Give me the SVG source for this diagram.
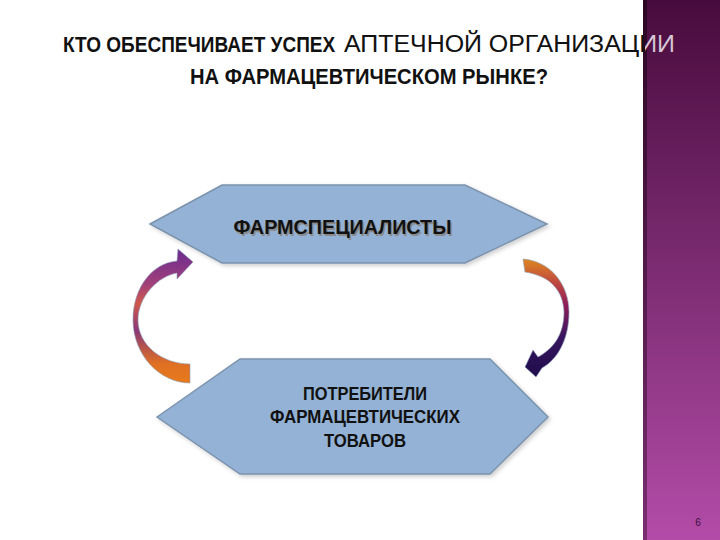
<svg xmlns="http://www.w3.org/2000/svg" width="720" height="540" viewBox="0 0 720 540">
<defs>
<style>
.hex{fill:#93b2d5;stroke:#7c93ad;stroke-width:1.5}
.t1{font-family:"Liberation Sans",Arial,sans-serif;font-weight:bold;font-size:20px;fill:#111}
.t2{font-family:"Liberation Sans",Arial,sans-serif;font-weight:bold;font-size:18px;fill:#111}
.shadow{fill:#8a8a8a}
</style>
<linearGradient id="bar" x1="0" y1="0" x2="0" y2="1">
<stop offset="0" stop-color="#480b3d"/>
<stop offset="0.45" stop-color="#77296d"/>
<stop offset="1" stop-color="#b34ca8"/>
</linearGradient>
<linearGradient id="edge" x1="0" y1="0" x2="0" y2="1">
<stop offset="0" stop-color="#2a0622"/>
<stop offset="1" stop-color="#7a2e70"/>
</linearGradient>
<linearGradient id="titlefill" gradientUnits="userSpaceOnUse" x1="0" y1="0" x2="720" y2="0">
<stop offset="0.8958" stop-color="#111"/>
<stop offset="0.8958" stop-color="#d8c8d6"/>
</linearGradient>
<linearGradient id="garrL" gradientUnits="userSpaceOnUse" x1="0" y1="250" x2="0" y2="384">
<stop offset="0" stop-color="#6c2c90"/>
<stop offset="0.25" stop-color="#a0407a"/>
<stop offset="0.4" stop-color="#d0584a"/>
<stop offset="0.6" stop-color="#8a3878"/>
<stop offset="0.85" stop-color="#e07022"/>
<stop offset="1" stop-color="#e87a1c"/>
</linearGradient>
<linearGradient id="garrR" gradientUnits="userSpaceOnUse" x1="0" y1="258" x2="0" y2="378">
<stop offset="0" stop-color="#e08a1e"/>
<stop offset="0.2" stop-color="#c04a40"/>
<stop offset="0.4" stop-color="#8c1c58"/>
<stop offset="0.65" stop-color="#3a1660"/>
<stop offset="1" stop-color="#1e0c4a"/>
</linearGradient>
<filter id="sh" x="-5%" y="-5%" width="115%" height="120%">
<feDropShadow dx="2" dy="2" stdDeviation="2" flood-color="#000" flood-opacity="0.2"/>
</filter>
</defs>
<rect x="0" y="0" width="720" height="540" fill="#fff"/>
<g id="sidebar">
<rect x="645" y="0" width="75" height="540" fill="url(#bar)"/>
<rect x="643" y="0" width="4" height="540" fill="url(#edge)"/>
<text x="698" y="526" font-family="Liberation Sans,Arial,sans-serif" font-size="10" fill="#3a1040" text-anchor="middle">6</text>
</g>
<g id="title">
<text transform="translate(63,52) scale(0.84,1)" x="0" y="0" font-family="Liberation Sans,Arial,sans-serif" font-weight="bold" font-size="22" fill="#111" textLength="324" lengthAdjust="spacingAndGlyphs">КТО ОБЕСПЕЧИВАЕТ УСПЕХ</text>
<text x="344" y="52" font-family="Liberation Sans,Arial,sans-serif" font-size="23" fill="url(#titlefill)" textLength="331" lengthAdjust="spacingAndGlyphs">АПТЕЧНОЙ ОРГАНИЗАЦИИ</text>
<text x="190" y="84" font-family="Liberation Sans,Arial,sans-serif" font-weight="bold" font-size="22" fill="#111" textLength="358" lengthAdjust="spacingAndGlyphs">НА ФАРМАЦЕВТИЧЕСКОМ РЫНКЕ?</text>
</g>
<g id="connectors">
<path d="M190,383 C160,383 133,355 133,320 C133,288 152,263 177,261 L178,249 L193,262 L177,279 L177,273 C158,276 138,297 138,320 C138,345 162,364 190,364 Z" fill="url(#garrL)" stroke="#8aa0b8" stroke-width="0.6"/>
<path d="M523,259 C550,261 569,284 569,312 C569,340 557,360 542,368 L536,377 L525,367 L533,350 L538,357 C553,349 564,335 564,312 C563,290 550,276 525,272 Z" fill="url(#garrR)" stroke="#8aa0b8" stroke-width="0.6"/>
</g>
<g id="node-pharmacists">
<polygon class="hex" filter="url(#sh)" points="150,224 222,185 465,185 547,224 465,263 222,263"/>
<text class="t1 shadow" x="344" y="235.5" text-anchor="middle" textLength="218" lengthAdjust="spacingAndGlyphs">ФАРМСПЕЦИАЛИСТЫ</text>
<text class="t1" x="342.5" y="234" text-anchor="middle" textLength="218" lengthAdjust="spacingAndGlyphs">ФАРМСПЕЦИАЛИСТЫ</text>
</g>
<g id="node-consumers">
<polygon class="hex" filter="url(#sh)" points="157,417 240,359 490,359 548,417 490,474 240,474"/>
<text class="t2" text-anchor="middle"><tspan x="365" y="400" textLength="124" lengthAdjust="spacingAndGlyphs">ПОТРЕБИТЕЛИ</tspan><tspan x="365" y="423" textLength="190" lengthAdjust="spacingAndGlyphs">ФАРМАЦЕВТИЧЕСКИХ</tspan><tspan x="365" y="447" textLength="82" lengthAdjust="spacingAndGlyphs">ТОВАРОВ</tspan></text>
</g>
</svg>
